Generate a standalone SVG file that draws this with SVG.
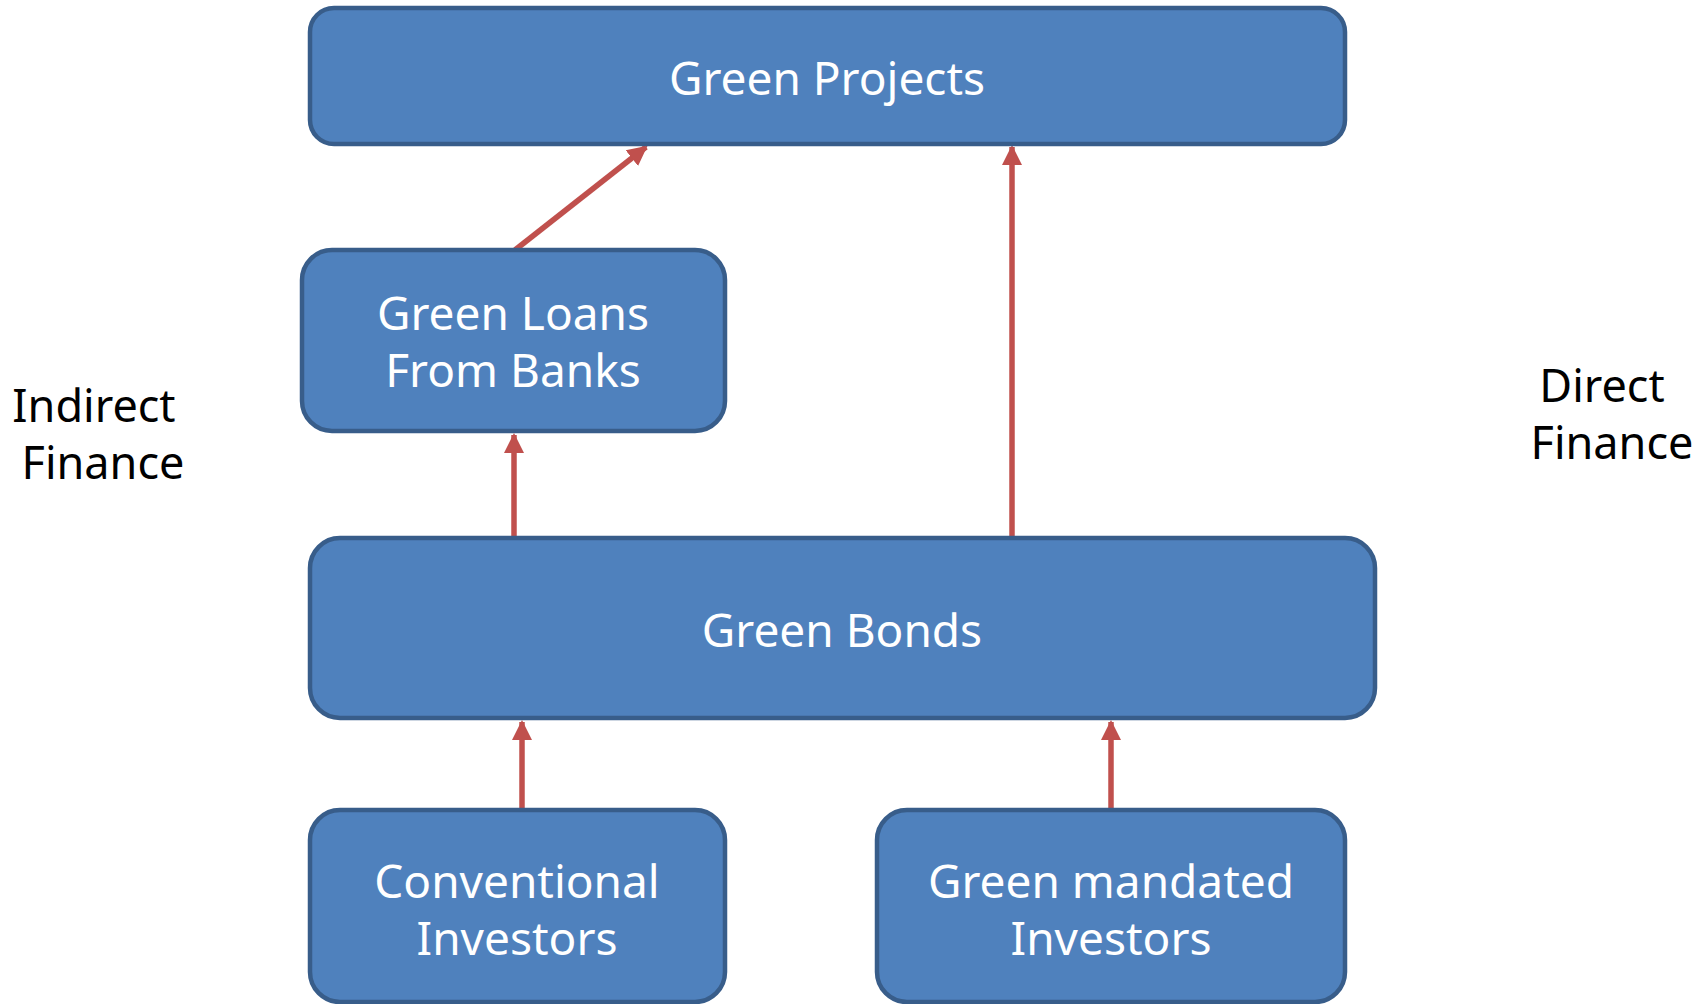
<svg xmlns="http://www.w3.org/2000/svg" width="1707" height="1004" viewBox="0 0 1707 1004">
<style>
.node rect{fill:#4F81BD;stroke:#385D8A;stroke-width:4.5}
.node text{fill:#ffffff;font-family:"Noto Sans","Open Sans","Liberation Sans",sans-serif;font-size:46px;text-anchor:middle}
.lbl{fill:#000000;font-family:"Noto Sans","Open Sans","Liberation Sans",sans-serif;font-size:45px;text-anchor:middle}
.conn line{stroke:#C0504D;stroke-width:5.5;fill:none}
</style>
<defs>
<marker id="ah" markerUnits="userSpaceOnUse" markerWidth="22" markerHeight="22" viewBox="0 0 22 22" refX="18" refY="11" orient="auto">
<path d="M0,1 L20,11 L0,21 Z" fill="#C0504D"/>
</marker>
</defs>
<rect width="1707" height="1004" fill="#ffffff"/>
<g id="conns" class="conn">
<line x1="515" y1="250" x2="646" y2="147" marker-end="url(#ah)"/>
<line x1="1012" y1="536" x2="1012" y2="147" marker-end="url(#ah)"/>
<line x1="514" y1="536" x2="514" y2="435" marker-end="url(#ah)"/>
<line x1="522" y1="808" x2="522" y2="722" marker-end="url(#ah)"/>
<line x1="1111" y1="808" x2="1111" y2="722" marker-end="url(#ah)"/>
</g>
<g id="green-projects" class="node">
<rect x="310" y="8" width="1035" height="136" rx="24"/>
<text x="827" y="95">Green Projects</text>
</g>
<g id="green-loans" class="node">
<rect x="302" y="250" width="423" height="181" rx="30"/>
<text x="513" y="330">Green Loans</text>
<text x="513" y="387">From Banks</text>
</g>
<g id="green-bonds" class="node">
<rect x="310" y="538" width="1065" height="180" rx="30"/>
<text x="842" y="647">Green Bonds</text>
</g>
<g id="conventional" class="node">
<rect x="310" y="810" width="415" height="192" rx="30"/>
<text x="517" y="898">Conventional</text>
<text x="517" y="955">Investors</text>
</g>
<g id="green-mandated" class="node">
<rect x="877" y="810" width="468" height="192" rx="30"/>
<text x="1111" y="898">Green mandated</text>
<text x="1111" y="955">Investors</text>
</g>
<g id="indirect-finance">
<text class="lbl" x="94" y="422">Indirect</text>
<text class="lbl" x="103" y="479">Finance</text>
</g>
<g id="direct-finance">
<text class="lbl" x="1602" y="402">Direct</text>
<text class="lbl" x="1612" y="459">Finance</text>
</g>
</svg>
